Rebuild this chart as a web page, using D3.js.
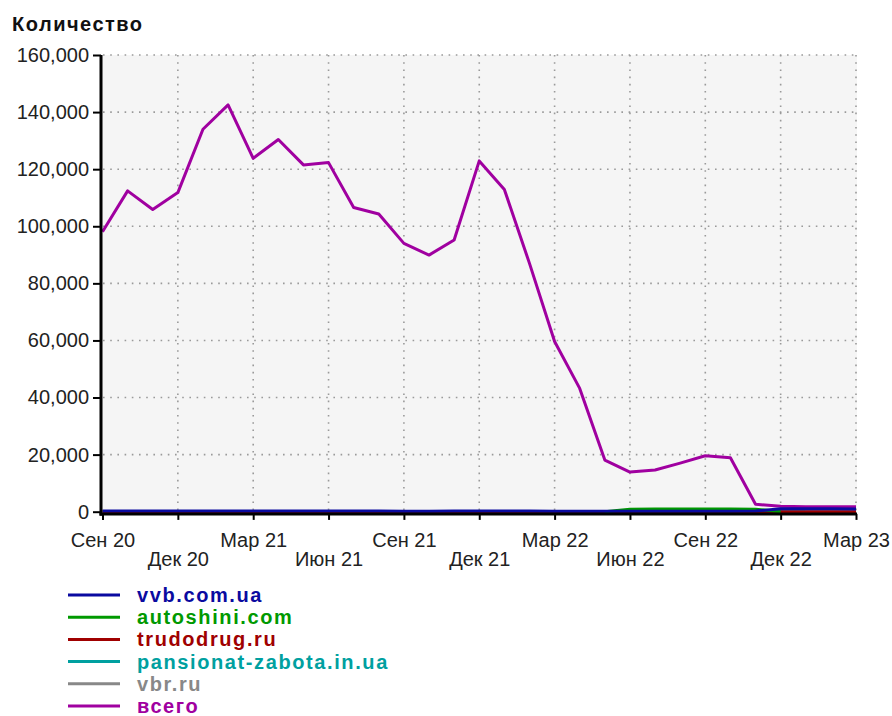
<!DOCTYPE html>
<html>
<head>
<meta charset="utf-8">
<script src="https://cdn.jsdelivr.net/npm/d3@7"></script>
<style>
  body { margin: 0; background: #fff; }
  text { font-family: "Liberation Sans", Arial, sans-serif; }
</style>
</head>
<body>
<script>
// monthly points, Sep 2020 .. Mar 2023
const months = ["2020-09", "2020-10", "2020-11", "2020-12", "2021-01", "2021-02", "2021-03", "2021-04",
    "2021-05", "2021-06", "2021-07", "2021-08", "2021-09", "2021-10", "2021-11", "2021-12",
    "2022-01", "2022-02", "2022-03", "2022-04", "2022-05", "2022-06", "2022-07", "2022-08",
    "2022-09", "2022-10", "2022-11", "2022-12", "2023-01", "2023-02", "2023-03"];

const tickMonths = ["2020-09", "2020-12", "2021-03", "2021-06", "2021-09", "2021-12",
    "2022-03", "2022-06", "2022-09", "2022-12", "2023-03"];
const tickLabels = ["Сен 20", "Дек 20", "Мар 21", "Июн 21", "Сен 21", "Дек 21",
    "Мар 22", "Июн 22", "Сен 22", "Дек 22", "Мар 23"];

const vvb = [220, 240, 230, 230, 250, 260, 240, 250, 240, 240, 220, 210, 200, 200, 210, 240,
    230, 210, 200, 190, 180, 170, 180, 190, 200, 200, 210, 1000, 1050, 1000, 980];
const autoshini = [null, null, null, null, null, null, null, null, null, null, null, null, null, null, null, null,
    null, null, null, null, 0, 900, 920, 950, 950, 930, 900, 0, null, null, null];
const trudodrug = [0, 0, 0, 0, 0, 0, 0, 0, 0, 0, 0, 0, 0, 0, 0, 0,
    0, 0, 0, 0, 0, 0, 0, 0, 0, 0, 0, 0, 0, 0, 0];
const pansionat = [null, null, null, null, null, null, null, null, null, null, null, null, null, null, null, null,
    null, null, null, null, null, null, null, null, null, null, 0, 0, 0, null, null];
const vbr = [null, null, null, null, null, null, null, null, null, null, null, null, null, null, null, null,
    null, null, null, null, null, null, null, null, null, null, null, null, 0, 0, 0];
const total = [98100, 112400, 105900, 111800, 134000, 142500, 123800, 130400, 121500, 122300, 106600, 104300,
    94000, 89900, 95200, 122900, 112900, 87000, 59600, 43200, 18100, 13900, 14600, 17000,
    19600, 18900, 2600, 1900, 1750, 1700, 1700];

const seriesNames = ["vvb.com.ua", "autoshini.com", "trudodrug.ru", "pansionat-zabota.in.ua", "vbr.ru", "всего"];
const seriesValues = [vvb, autoshini, trudodrug, pansionat, vbr, total];
const seriesColors = ["#0a0aa0", "#009900", "#a00000", "#00a0a0", "#888888", "#a000a0"];

const yTicks = [0, 20000, 40000, 60000, 80000, 100000, 120000, 140000, 160000];

const W = 892, H = 716;
const plot = { left: 101, right: 857, top: 55, bottom: 511.7 };

const svg = d3.select('body').append('svg')
    .attr('width', W)
    .attr('height', H);

const xscale = d3.scalePoint().domain(months).range([102.5, 856]);
const yscale = d3.scaleLinear().domain([0, 160000]).range([plot.bottom, plot.top]);

// title
svg.append('text')
    .attr('x', 12).attr('y', 31)
    .attr('font-size', 20).attr('font-weight', 'bold')
    .attr('letter-spacing', 1.5)
    .attr('fill', '#111')
    .text('Количество');

// plot background
svg.append('rect')
    .attr('x', plot.left).attr('y', plot.top)
    .attr('width', plot.right - plot.left).attr('height', plot.bottom - plot.top + 2)
    .attr('fill', '#f5f5f5');

// dotted grid
const grid = svg.append('g')
    .attr('stroke', '#9a9a9a')
    .attr('stroke-width', 1.6)
    .attr('stroke-dasharray', '1.6,5.6');

grid.selectAll('line.h')
    .data(yTicks.filter((d) => d > 0))
    .join('line')
    .attr('class', 'h')
    .attr('x1', plot.left + 2).attr('x2', plot.right)
    .attr('y1', (d) => yscale(d)).attr('y2', (d) => yscale(d));

grid.selectAll('line.v')
    .data(tickMonths.slice(1))
    .join('line')
    .attr('class', 'v')
    .attr('x1', (d) => xscale(d)).attr('x2', (d) => xscale(d))
    .attr('y1', plot.top).attr('y2', plot.bottom);

// lines, drawn last-to-first so vvb ends up on top
const line = d3.line()
    .defined((d) => d != null)
    .x((d, i) => xscale(months[i]))
    .y((d) => yscale(d));

const order = d3.range(seriesNames.length).reverse();
svg.append('g')
    .selectAll('path')
    .data(order)
    .join('path')
    .attr('fill', 'none')
    .attr('stroke', (k) => seriesColors[k])
    .attr('stroke-width', 3)
    .attr('stroke-linejoin', 'round')
    .attr('d', (k) => line(seriesValues[k]));

// y axis
const yaxis = d3.axisLeft(yscale)
    .tickValues(yTicks)
    .tickFormat(d3.format(','))
    .tickSize(8)
    .tickPadding(4);

const g_yaxis = svg.append('g')
    .attr('transform', `translate(${plot.left},0)`)
    .call(yaxis);
g_yaxis.select('.domain').remove();
g_yaxis.selectAll('.tick line').attr('stroke', '#000').attr('stroke-width', 2);
g_yaxis.selectAll('.tick text')
    .attr('font-size', 20)
    .attr('fill', '#222')
    .attr('font-family', '"Liberation Sans", Arial, sans-serif');
g_yaxis.append('line')
    .attr('x1', 0).attr('x2', 0)
    .attr('y1', plot.top).attr('y2', plot.bottom + 4)
    .attr('stroke', '#000').attr('stroke-width', 3);

// x axis
const xaxis = d3.axisBottom(xscale)
    .tickValues(tickMonths)
    .tickFormat((d, i) => tickLabels[i])
    .tickSize(6)
    .tickPadding(4);

const g_xaxis = svg.append('g')
    .attr('transform', `translate(0,${plot.bottom + 2.2})`)
    .call(xaxis);
g_xaxis.select('.domain').remove();
g_xaxis.selectAll('.tick line').attr('stroke', '#000').attr('stroke-width', 2);
g_xaxis.selectAll('.tick text')
    .attr('font-size', 20)
    .attr('fill', '#222')
    .attr('font-family', '"Liberation Sans", Arial, sans-serif')
    .attr('dy', null)
    .attr('y', (d, i) => i % 2 === 0 ? 33 : 52);
g_xaxis.append('line')
    .attr('x1', plot.left - 1.5).attr('x2', plot.right)
    .attr('y1', 0).attr('y2', 0)
    .attr('stroke', '#000').attr('stroke-width', 3);

// legend
const legend = svg.append('g')
    .selectAll('g')
    .data(seriesNames)
    .join('g')
    .attr('transform', (d, i) => `translate(0,${595 + i * 22.2})`);

legend.append('line')
    .attr('x1', 68).attr('x2', 120)
    .attr('stroke', (d, i) => seriesColors[i])
    .attr('stroke-width', 3);

legend.append('text')
    .attr('x', 137).attr('y', 7)
    .attr('font-size', 20).attr('font-weight', 'bold')
    .attr('letter-spacing', 1.6)
    .attr('fill', (d, i) => seriesColors[i])
    .text((d) => d);
</script>
</body>
</html>
